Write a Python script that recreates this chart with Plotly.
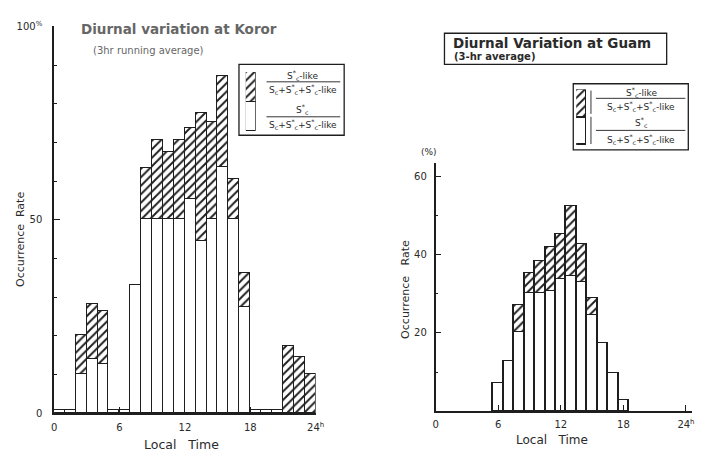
import plotly.graph_objects as go

# ---------------- data ----------------
koror_hours = list(range(24))  # bar spans [h, h+1]
koror_sc = [0.6, 0.6, 10, 14, 12.5, 0.6, 0.6, 33, 50, 50, 50, 50, 55.3, 44.5, 50, 63.6, 50, 27.3, 0.6, 0.6, 0.6, 0, 0, 0]
koror_like = [0, 0, 10, 14, 13.8, 0, 0, 0, 13.4, 20.5, 17.4, 20.5, 18.3, 32.9, 25.2, 23.6, 10.5, 8.8, 0, 0, 0, 17.2, 14.3, 10.1]

guam_hours = list(range(6, 19))  # bars centred on hour
guam_sc = [7, 12.6, 20, 30, 30, 30.5, 33.7, 34.5, 33, 24.5, 17.2, 9.6, 2.7]
guam_like = [0, 0, 7.1, 5.1, 8.3, 11.3, 11.4, 17.7, 9.6, 4.3, 0, 0, 0]

koror_xticks = [0, 6, 12, 18, 24]
koror_xtext = ["0", "6", "12", "18", "24<sup>h</sup>"]
koror_yticks = [0, 50, 100]
koror_ytext = ["0", "50", "100<sup>%</sup>"]
guam_xticks = [0, 6, 12, 18, 24]
guam_xtext = ["0", "6", "12", "18", "24<sup>h</sup>"]
guam_yticks = [20, 40, 60]
guam_ytext = ["20", "40", "60"]
swatch = [1, 1]

W, H = 715, 459
def px(x): return x / W
def py(y): return 1 - y / H

INK = "#1e1e1e"
TXT = "#2a2a2a"
FONT = "DejaVu Sans"
hatch = dict(shape="/", fgcolor=INK, bgcolor="white", size=6, solidity=0.32, fillmode="replace")
line = dict(color=INK, width=1.3)

fig = go.Figure()

# Koror
fig.add_trace(go.Bar(x=[h + 0.5 for h in koror_hours], y=koror_sc, width=1,
                     marker=dict(color="white", line=line), xaxis="x", yaxis="y"))
fig.add_trace(go.Bar(x=[h + 0.5 for h in koror_hours], y=koror_like, width=1,
                     marker=dict(color="white", line=line, pattern=hatch), xaxis="x", yaxis="y"))
# Guam
fig.add_trace(go.Bar(x=guam_hours, y=guam_sc, width=1,
                     marker=dict(color="white", line=line), xaxis="x2", yaxis="y2"))
fig.add_trace(go.Bar(x=guam_hours, y=[v if v > 0 else None for v in guam_like], width=1,
                     marker=dict(color="white", line=line, pattern=hatch), xaxis="x2", yaxis="y2"))
# legend swatches
for xa, ya in (("x3", "y3"), ("x4", "y4")):
    fig.add_trace(go.Bar(x=[0], y=[swatch[0]], width=1,
                         marker=dict(color="white", line=line), xaxis=xa, yaxis=ya))
    fig.add_trace(go.Bar(x=[0], y=[swatch[1]], width=1,
                         marker=dict(color="white", line=line, pattern=hatch), xaxis=xa, yaxis=ya))

axis_common = dict(showline=True, linecolor=INK, linewidth=1.6, showgrid=False, zeroline=False,
                   ticks="inside", tickcolor=INK, ticklen=6, tickwidth=1.3,
                   tickfont=dict(family=FONT, size=10, color=TXT), fixedrange=True)
hidden = dict(visible=False, showgrid=False, zeroline=False, fixedrange=True)

fig.update_layout(
    width=W, height=H, margin=dict(l=0, r=0, t=0, b=0),
    paper_bgcolor="white", plot_bgcolor="rgba(0,0,0,0)",
    barmode="stack", bargap=0, showlegend=False,
    xaxis=dict(domain=[px(52), px(318)], range=[0, 24], anchor="y",
               tickvals=koror_xticks, ticktext=koror_xtext, ticklabelstandoff=4, **axis_common),
    yaxis=dict(domain=[py(418), py(20)], range=[0, 100], anchor="x",
               tickvals=koror_yticks, ticktext=koror_ytext, ticklabelstandoff=8,
               minor=dict(ticks="inside", dtick=10, ticklen=3, tickcolor=INK), **axis_common),
    xaxis2=dict(domain=[px(440), px(701)], range=[0, 24.6], anchor="y2",
                tickvals=guam_xticks, ticktext=guam_xtext, ticklabelstandoff=3, **axis_common),
    yaxis2=dict(domain=[py(416), py(161)], range=[0, 63.3], anchor="x2",
                tickvals=guam_yticks, ticktext=guam_ytext, ticklabelstandoff=5,
                minor=dict(ticks="inside", dtick=10, ticklen=3, tickcolor=INK), **axis_common),
    xaxis3=dict(domain=[px(247), px(257)], range=[-0.5, 0.5], anchor="y3", **hidden),
    yaxis3=dict(domain=[py(128), py(67)], range=[0, 2], anchor="x3", **hidden),
    xaxis4=dict(domain=[px(583), px(593)], range=[-0.5, 0.5], anchor="y4", **hidden),
    yaxis4=dict(domain=[py(142), py(85)], range=[0, 2], anchor="x4", **hidden),
)

ann = []
def text(x, y, s, size=10, color=TXT, angle=0, xanchor="center", bold=False):
    ann.append(dict(x=px(x), y=py(y), xref="paper", yref="paper", text=("<b>%s</b>" % s) if bold else s,
                    showarrow=False, textangle=angle, xanchor=xanchor, yanchor="middle",
                    font=dict(family=FONT, size=size, color=color)))

# Koror texts
text(77, 23, "Diurnal variation at Koror", size=13.5, color="#666", xanchor="left", bold=True)
text(90, 45, "(3hr running average)", size=10, color="#666", xanchor="left")
text(18, 239, "Occurrence&nbsp;&nbsp;Rate", size=11, angle=-90)
text(182, 450, "Local&nbsp;&nbsp;&nbsp;Time", size=12.5)
# Guam texts
text(456, 37, "Diurnal Variation at Guam", size=13.5, color=TXT, xanchor="left", bold=True)
text(457, 51, "(3-hr average)", size=10, color=TXT, xanchor="left", bold=True)
text(410, 291, "Occurrence&nbsp;&nbsp;&nbsp;Rate", size=11, angle=-90)
text(558, 446, "Local&nbsp;&nbsp;&nbsp;Time", size=12)
text(433, 149, "(%)", size=9)

num1 = "S<sup>*</sup><sub>c</sub>-like"
num2 = "S<sup>*</sup><sub>c</sub>"
den = "S<sub>c</sub>+S<sup>*</sup><sub>c</sub>+S<sup>*</sup><sub>c</sub>-like"
LS = 9
# Koror legend
text(305, 70, num1, size=LS)
text(305, 85, den, size=LS)
text(305, 106, num2, size=LS)
text(305, 121, den, size=LS)
# Guam legend
text(649, 88, num1, size=LS)
text(649, 102, den, size=LS)
text(649, 119, num2, size=LS)
text(649, 136, den, size=LS)
fig.update_layout(annotations=ann)

shapes = []
def rect(x0, y0, x1, y1, w=1.3):
    shapes.append(dict(type="rect", xref="paper", yref="paper", x0=px(x0), x1=px(x1), y0=py(y1), y1=py(y0),
                       line=dict(color=INK, width=w), fillcolor="rgba(0,0,0,0)"))
def hline(x0, x1, y, w=0.9):
    shapes.append(dict(type="line", xref="paper", yref="paper", x0=px(x0), x1=px(x1), y0=py(y), y1=py(y),
                       line=dict(color=INK, width=w)))
def vline(x, y0, y1, w=0.9):
    shapes.append(dict(type="line", xref="paper", yref="paper", x0=px(x), x1=px(x), y0=py(y0), y1=py(y1),
                       line=dict(color=INK, width=w)))

rect(240, 59, 347, 132)
hline(268, 343, 77)
hline(268, 343, 113)
rect(449, 27, 675, 59)
rect(580, 79, 697, 147)
hline(603, 694, 94)
hline(603, 694, 127)
vline(598, 86, 110)
vline(598, 113, 141)
fig.update_layout(shapes=shapes)

fig.write_html("out.html")
